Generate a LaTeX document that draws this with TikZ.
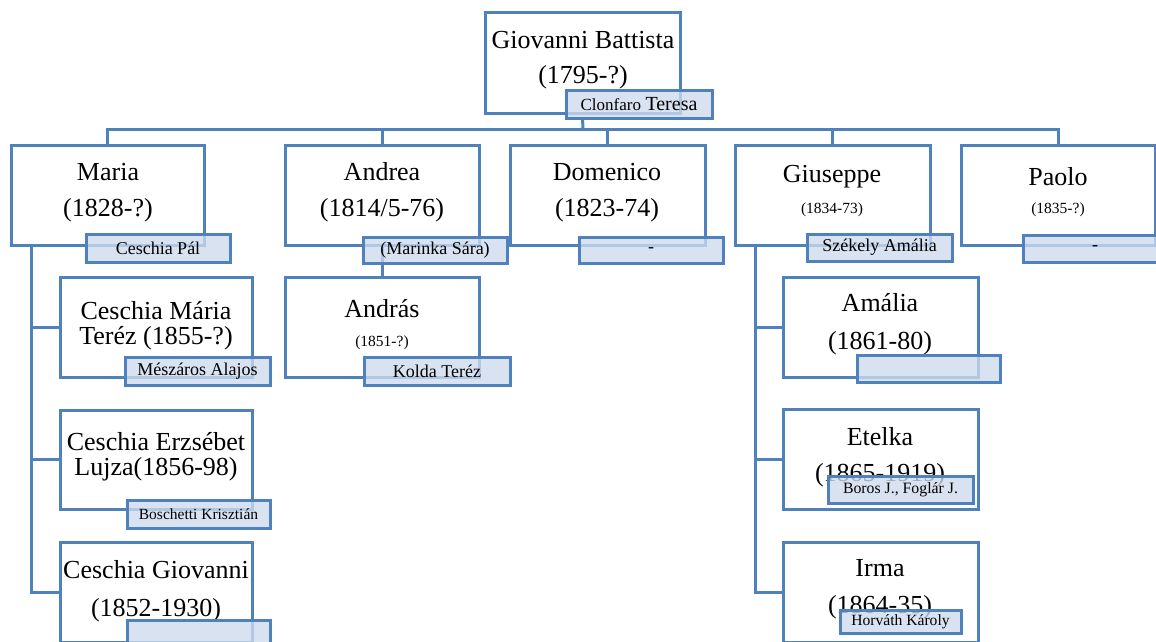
\documentclass[tikz,border=0pt]{standalone}
\usepackage{fontspec}
\setmainfont{Liberation Serif}
\definecolor{edge}{HTML}{4F81BD}
\definecolor{sfill}{HTML}{CFDBEC}
\tikzset{
  pbox/.style={draw=edge, line width=3pt, fill=white, anchor=north west, inner sep=0pt, outer sep=0pt},
  sbox/.style={draw=edge, line width=3pt, fill=sfill, fill opacity=0.78, text opacity=1, anchor=north west, inner sep=0pt, outer sep=0pt, font=\fontsize{18}{20}\selectfont},
  conn/.style={draw=edge, line width=3pt},
  big/.style={font=\fontsize{26}{30}\selectfont, inner sep=0pt},
  small/.style={font=\fontsize{15.5}{18}\selectfont, inner sep=0pt}
}
\begin{document}
\begin{tikzpicture}[x=1pt,y=-1pt]
\useasboundingbox (0,0) rectangle (1156,641);
\clip (0,0) rectangle (1156,641);
\fill[white] (0,0) rectangle (1156,641);
% person boxes
\node[pbox, minimum width=195pt, minimum height=101pt] (gb) at (485,12) {};
\node[pbox, minimum width=193pt, minimum height=100pt] (maria) at (11,145) {};
\node[pbox, minimum width=194pt, minimum height=100pt] (andrea) at (285,145) {};
\node[pbox, minimum width=195pt, minimum height=100pt] (domenico) at (510,145) {};
\node[pbox, minimum width=195pt, minimum height=100pt] (giuseppe) at (735,145) {};
\node[pbox, minimum width=194pt, minimum height=100pt] (paolo) at (961,145) {};
\node[pbox, minimum width=192pt, minimum height=100pt] (cmt) at (60,277) {};
\node[pbox, minimum width=192pt, minimum height=99pt] (cerz) at (60,410) {};
\node[pbox, minimum width=192pt, minimum height=100pt] (cgio) at (60,542) {};
\node[pbox, minimum width=194pt, minimum height=100pt] (andras) at (285,277) {};
\node[pbox, minimum width=195pt, minimum height=100pt] (amalia) at (783,277) {};
\node[pbox, minimum width=195pt, minimum height=100pt] (etelka) at (783,409) {};
\node[pbox, minimum width=195pt, minimum height=100pt] (irma) at (783,542) {};
% bus
\coordinate (bus) at (583,129);
% connectors
\draw[conn] (maria.north) -- (maria.north |- bus) -- (paolo.north |- bus) -- (paolo.north);
\draw[conn] (andrea.north) -- (andrea.north |- bus);
\draw[conn] (domenico.north) -- (domenico.north |- bus);
\draw[conn] (giuseppe.north) -- (giuseppe.north |- bus);
\draw[conn] (andrea.south) -- (andras.north);
\draw[conn] ([xshift=20pt]maria.south west) |- (cgio.west);
\draw[conn] ([xshift=20pt]maria.south west |- cmt.west) -- (cmt.west);
\draw[conn] ([xshift=20pt]maria.south west |- cerz.west) -- (cerz.west);
\draw[conn] ([xshift=20pt]giuseppe.south west) |- (irma.west);
\draw[conn] ([xshift=20pt]giuseppe.south west |- amalia.west) -- (amalia.west);
\draw[conn] ([xshift=20pt]giuseppe.south west |- etelka.west) -- (etelka.west);
% texts
\node[big] (gb1) at (583,40) {Giovanni Battista};
\node[big] (gb2) at (583,77) {(1795-?)};
\node[big] (m1) at (108,172) {Maria};
\node[big] (m2) at (108,210) {(1828-?)};
\node[big] (a1) at (382,172) {Andrea};
\node[big] (a2) at (382,210) {(1814/5-76)};
\node[big] (d1) at (607,172) {Domenico};
\node[big] (d2) at (607,210) {(1823-74)};
\node[big] (g1) at (832,177) {Giuseppe};
\node[small] (g2) at (832,210) {(1834-73)};
\node[big] (p1) at (1058,177) {Paolo};
\node[small] (p2) at (1058,210) {(1835-?)};
\node[big] (c1) at (156,311) {Ceschia Mária};
\node[big] (c2) at (156,338) {Teréz (1855-?)};
\node[big] (e1) at (156,442) {Ceschia Erzsébet};
\node[big] (e2) at (156,469) {Lujza(1856-98)};
\node[big] (o1) at (156,570) {Ceschia Giovanni};
\node[big] (o2) at (156,610) {(1852-1930)};
\node[big] (an1) at (382,309) {András};
\node[small] (an2) at (382,343) {(1851-?)};
\node[big] (am1) at (880,303) {Amália};
\node[big] (am2) at (880,343) {(1861-80)};
\node[big] (et1) at (880,437) {Etelka};
\node[big] (et2) at (880,475) {(1865-1919)};
\node[big] (ir1) at (880,568) {Irma};
\node[big] (ir2) at (880,607) {(1864-35)};
% spouse boxes
\node[sbox, minimum width=146pt, minimum height=28pt] (clon) at (566,90) {{\fontsize{17}{20}\selectfont Clonfaro} {\fontsize{20}{22}\selectfont Teresa}};
\draw[conn] (gb.south |- clon.south) -- (bus);
\node[sbox, minimum width=144pt, minimum height=28pt] (sp-maria) at (86,234) {Ceschia Pál};
\node[sbox, minimum width=144pt, minimum height=26pt] (sp-andrea) at (363,237) {(Marinka Sára)};
\node[sbox, minimum width=144pt, minimum height=26pt] (sp-domenico) at (579,237) {-};
\node[sbox, minimum width=145pt, minimum height=27pt] (sp-giuseppe) at (807,234) {Székely Amália};
\node[sbox, minimum width=144pt, minimum height=27pt] (sp-paolo) at (1023,235) {-};
\node[sbox, minimum width=145pt, minimum height=28pt] (sp-cmt) at (125,357) {Mészáros Alajos};
\node[sbox, minimum width=143pt, minimum height=28pt, font=\fontsize{15.5}{18}\selectfont] (sp-cerz) at (127,500) {Boschetti Krisztián};
\node[sbox, minimum width=143pt, minimum height=28pt] (sp-cgio) at (127,620) {};
\node[sbox, minimum width=146pt, minimum height=28pt] (sp-andras) at (364,357) {Kolda Teréz};
\node[sbox, minimum width=143pt, minimum height=27pt] (sp-amalia) at (857,355) {};
\node[sbox, minimum width=145pt, minimum height=27pt, font=\fontsize{15.8}{18}\selectfont] (sp-etelka) at (828,476) {Boros J., Foglár J.};
\node[sbox, minimum width=121pt, minimum height=23pt, font=\fontsize{15.6}{18}\selectfont] (sp-irma) at (840,610) {Horváth Károly};
\end{tikzpicture}
\end{document}
